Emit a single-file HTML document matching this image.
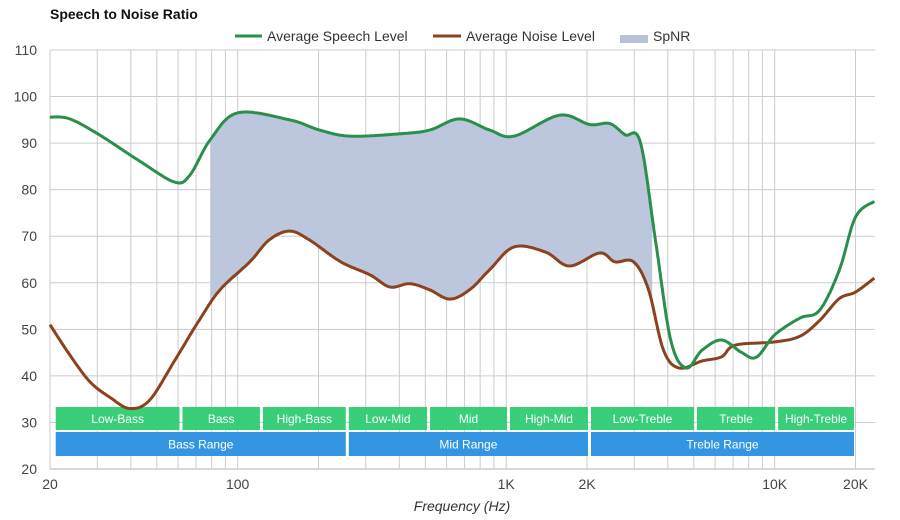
<!DOCTYPE html>
<html><head><meta charset="utf-8"><style>
body{margin:0;background:#fff;}
svg{display:block;font-family:"Liberation Sans",Arial,sans-serif;}
</style></head><body>
<svg id="chart" width="900" height="520" viewBox="0 0 900 520">
<text x="50" y="19" font-size="14" font-weight="bold" fill="#111">Speech to Noise Ratio</text>
<g>
<g><line x1="235" y1="36" x2="262" y2="36" stroke="#2a8f4b" stroke-width="3"/><text x="267" y="41" font-size="14" fill="#333">Average Speech Level</text></g>
<g><line x1="433" y1="36" x2="461" y2="36" stroke="#8b4220" stroke-width="3"/><text x="466" y="41" font-size="14" fill="#333">Average Noise Level</text></g>
<g><rect x="620" y="35" width="28" height="8" fill="#b8c3da"/><text x="653" y="41" font-size="14" fill="#333">SpNR</text></g>
</g>
<g id="grid"></g>
<g id="fill"></g>
<g id="bands"></g>
<g id="lines"></g>
<g id="axes"></g>
<text x="462" y="511" font-size="14" font-style="italic" text-anchor="middle" fill="#333">Frequency (Hz)</text>
</svg>
<script>
const speechFreq=[20,23.7,30.7,43.5,58.4,66.5,79,100,156,202,262,401,518,670,868,1070,1580,2045,2430,2770,3160,3600,4100,4680,5360,6340,7500,8540,10000,12400,14700,17400,20000,23500];
const speechVal=[95.6,95.2,91.7,86,81.6,83.2,90.7,96.5,95,92.8,91.5,92,92.8,95.2,92.8,91.5,96,94,94.2,91.8,90.2,69,47.7,41.7,45.5,47.7,45.1,44,48.8,52.4,54.1,62.7,74.1,77.5];
const noiseFreq=[20,23.7,28.2,33.6,39.6,47,58.4,72,86,111,131,156,185,242,311,369,438,518,617,731,868,1070,1400,1720,2230,2540,2980,3390,3850,4400,5360,6340,7130,10000,12400,14700,17400,20000,23500];
const noiseVal=[51,44.5,38.7,35.3,33,34.8,43.4,52,58.5,64.5,69.2,71.1,69.2,64.5,61.7,59.1,59.8,58.5,56.5,58.5,62.8,67.7,66.6,63.6,66.4,64.5,64.5,58.5,45.6,41.7,43.2,44.1,46.6,47.3,48.5,51.9,56.6,58,61];
const spnrStart=79, spnrEnd=3500;
const yTicks=[20,30,40,50,60,70,80,90,100,110];
const xTickVals=[20,100,1000,2000,10000,20000];
const xTickLabels=["20","100","1K","2K","10K","20K"];
const bandNames=["Low-Bass","Bass","High-Bass","Low-Mid","Mid","High-Mid","Low-Treble","Treble","High-Treble"];
const bandEdges=[20.3,61.5,122.6,256,514,1020,2043,5070,10170,20000];
const rangeNames=["Bass Range","Mid Range","Treble Range"];
const rangeEdges=[20.3,256,2043,20000];

const NS="http://www.w3.org/2000/svg";
const X0=50,X1=875,Y0=469,Y1=50;
const DEC=268.5;
const xs=f=>X0+(Math.log10(f)-Math.log10(20))*DEC;
const ys=v=>Y0-(v-20)*(Y0-Y1)/90;
function mk(tag,attrs,parent){const e=document.createElementNS(NS,tag);for(const k in attrs)e.setAttribute(k,attrs[k]);parent.appendChild(e);return e;}
const grid=document.getElementById('grid');
yTicks.forEach(v=>{
 const l=mk('line',{x1:X0,x2:X1,y1:ys(v),y2:ys(v),stroke:'#ccc','stroke-width':1},grid);
 
 
});
const gf=[];
for(let dd=10;dd<=10000;dd*=10)for(let m=1;m<=9;m++){const f=dd*m;if(f>=20&&f<=20000)gf.push(f);}
gf.forEach(f=>{
 const l=mk('line',{x1:xs(f),x2:xs(f),y1:Y1,y2:Y0,stroke:'#ccc','stroke-width':1},grid);
 
 
});
const axes=document.getElementById('axes');
yTicks.forEach(v=>{
 const t=mk('text',{x:37,y:ys(v)+5,'font-size':14,'text-anchor':'end',fill:'#444'},axes);t.textContent=v;
 
 
});
xTickVals.forEach((f,i)=>{
 const t=mk('text',{x:xs(f),y:489,'font-size':14,'text-anchor':'middle',fill:'#444'},axes);t.textContent=xTickLabels[i];
 
 
});
function sample(fr,vals){
 const p=fr.map((f,i)=>[xs(f),ys(vals[i])]);const out=[];
 for(let i=0;i<p.length-1;i++){
  const p0=p[Math.max(0,i-1)],p1=p[i],p2=p[i+1],p3=p[Math.min(p.length-1,i+2)];
  for(let s=0;s<20;s++){const t=s/20,t2=t*t,t3=t2*t;
   const c=(a,b,cc,e)=>0.5*((2*b)+(-a+cc)*t+(2*a-5*b+4*cc-e)*t2+(-a+3*b-3*cc+e)*t3);
   out.push([c(p0[0],p1[0],p2[0],p3[0]),c(p0[1],p1[1],p2[1],p3[1])]);}
 }
 out.push(p[p.length-1]);return out;
}
const sp=sample(speechFreq,speechVal), np=sample(noiseFreq,noiseVal);
function interp(pts,x){for(let i=0;i<pts.length-1;i++){if(pts[i][0]<=x&&pts[i+1][0]>=x){const r=(x-pts[i][0])/((pts[i+1][0]-pts[i][0])||1);return pts[i][1]+r*(pts[i+1][1]-pts[i][1]);}}return pts[pts.length-1][1];}
const xa=xs(spnrStart),xb=xs(spnrEnd);const topPts=[],botPts=[];
for(let x=xa;x<=xb;x+=1){topPts.push([x,interp(sp,x)]);botPts.push([x,interp(np,x)]);}
const poly=topPts.concat(botPts.reverse()).map(p=>p[0].toFixed(1)+','+p[1].toFixed(1)).join(' ');
const fa=mk('polygon',{points:poly,fill:'#b8c3da','fill-opacity':0.95},document.getElementById('fill'));


const bands=document.getElementById('bands');
function band(names,edges,y,h,color,nm){
 names.forEach((n,i)=>{
  const a=xs(edges[i])+(i?1.5:4),b=xs(edges[i+1])-1.5;
  const r=mk('rect',{x:a,y:y,width:b-a,height:h,fill:color,'fill-opacity':0.95},bands);
  
  
  const t=mk('text',{x:(a+b)/2,y:y+h/2+4.5,'font-size':12,'text-anchor':'middle',fill:'#fff'},bands);t.textContent=n;
  
  
 });
}
band(bandNames,bandEdges,407,23,'#2ecc71','band-box');
band(rangeNames,rangeEdges,432,24,'#2990e0','range-box');
const lines=document.getElementById('lines');
const pathD=pts=>'M'+pts.map(p=>p[0].toFixed(1)+','+p[1].toFixed(1)).join('L');
const ln=mk('path',{d:pathD(np),fill:'none',stroke:'#8b4220','stroke-width':3},lines);


const ls=mk('path',{d:pathD(sp),fill:'none',stroke:'#2a8f4b','stroke-width':3},lines);


const ax=mk('line',{x1:X0,x2:X1,y1:Y0,y2:Y0,stroke:'#ccc','stroke-width':1.5},axes);


</script>
</body></html>
